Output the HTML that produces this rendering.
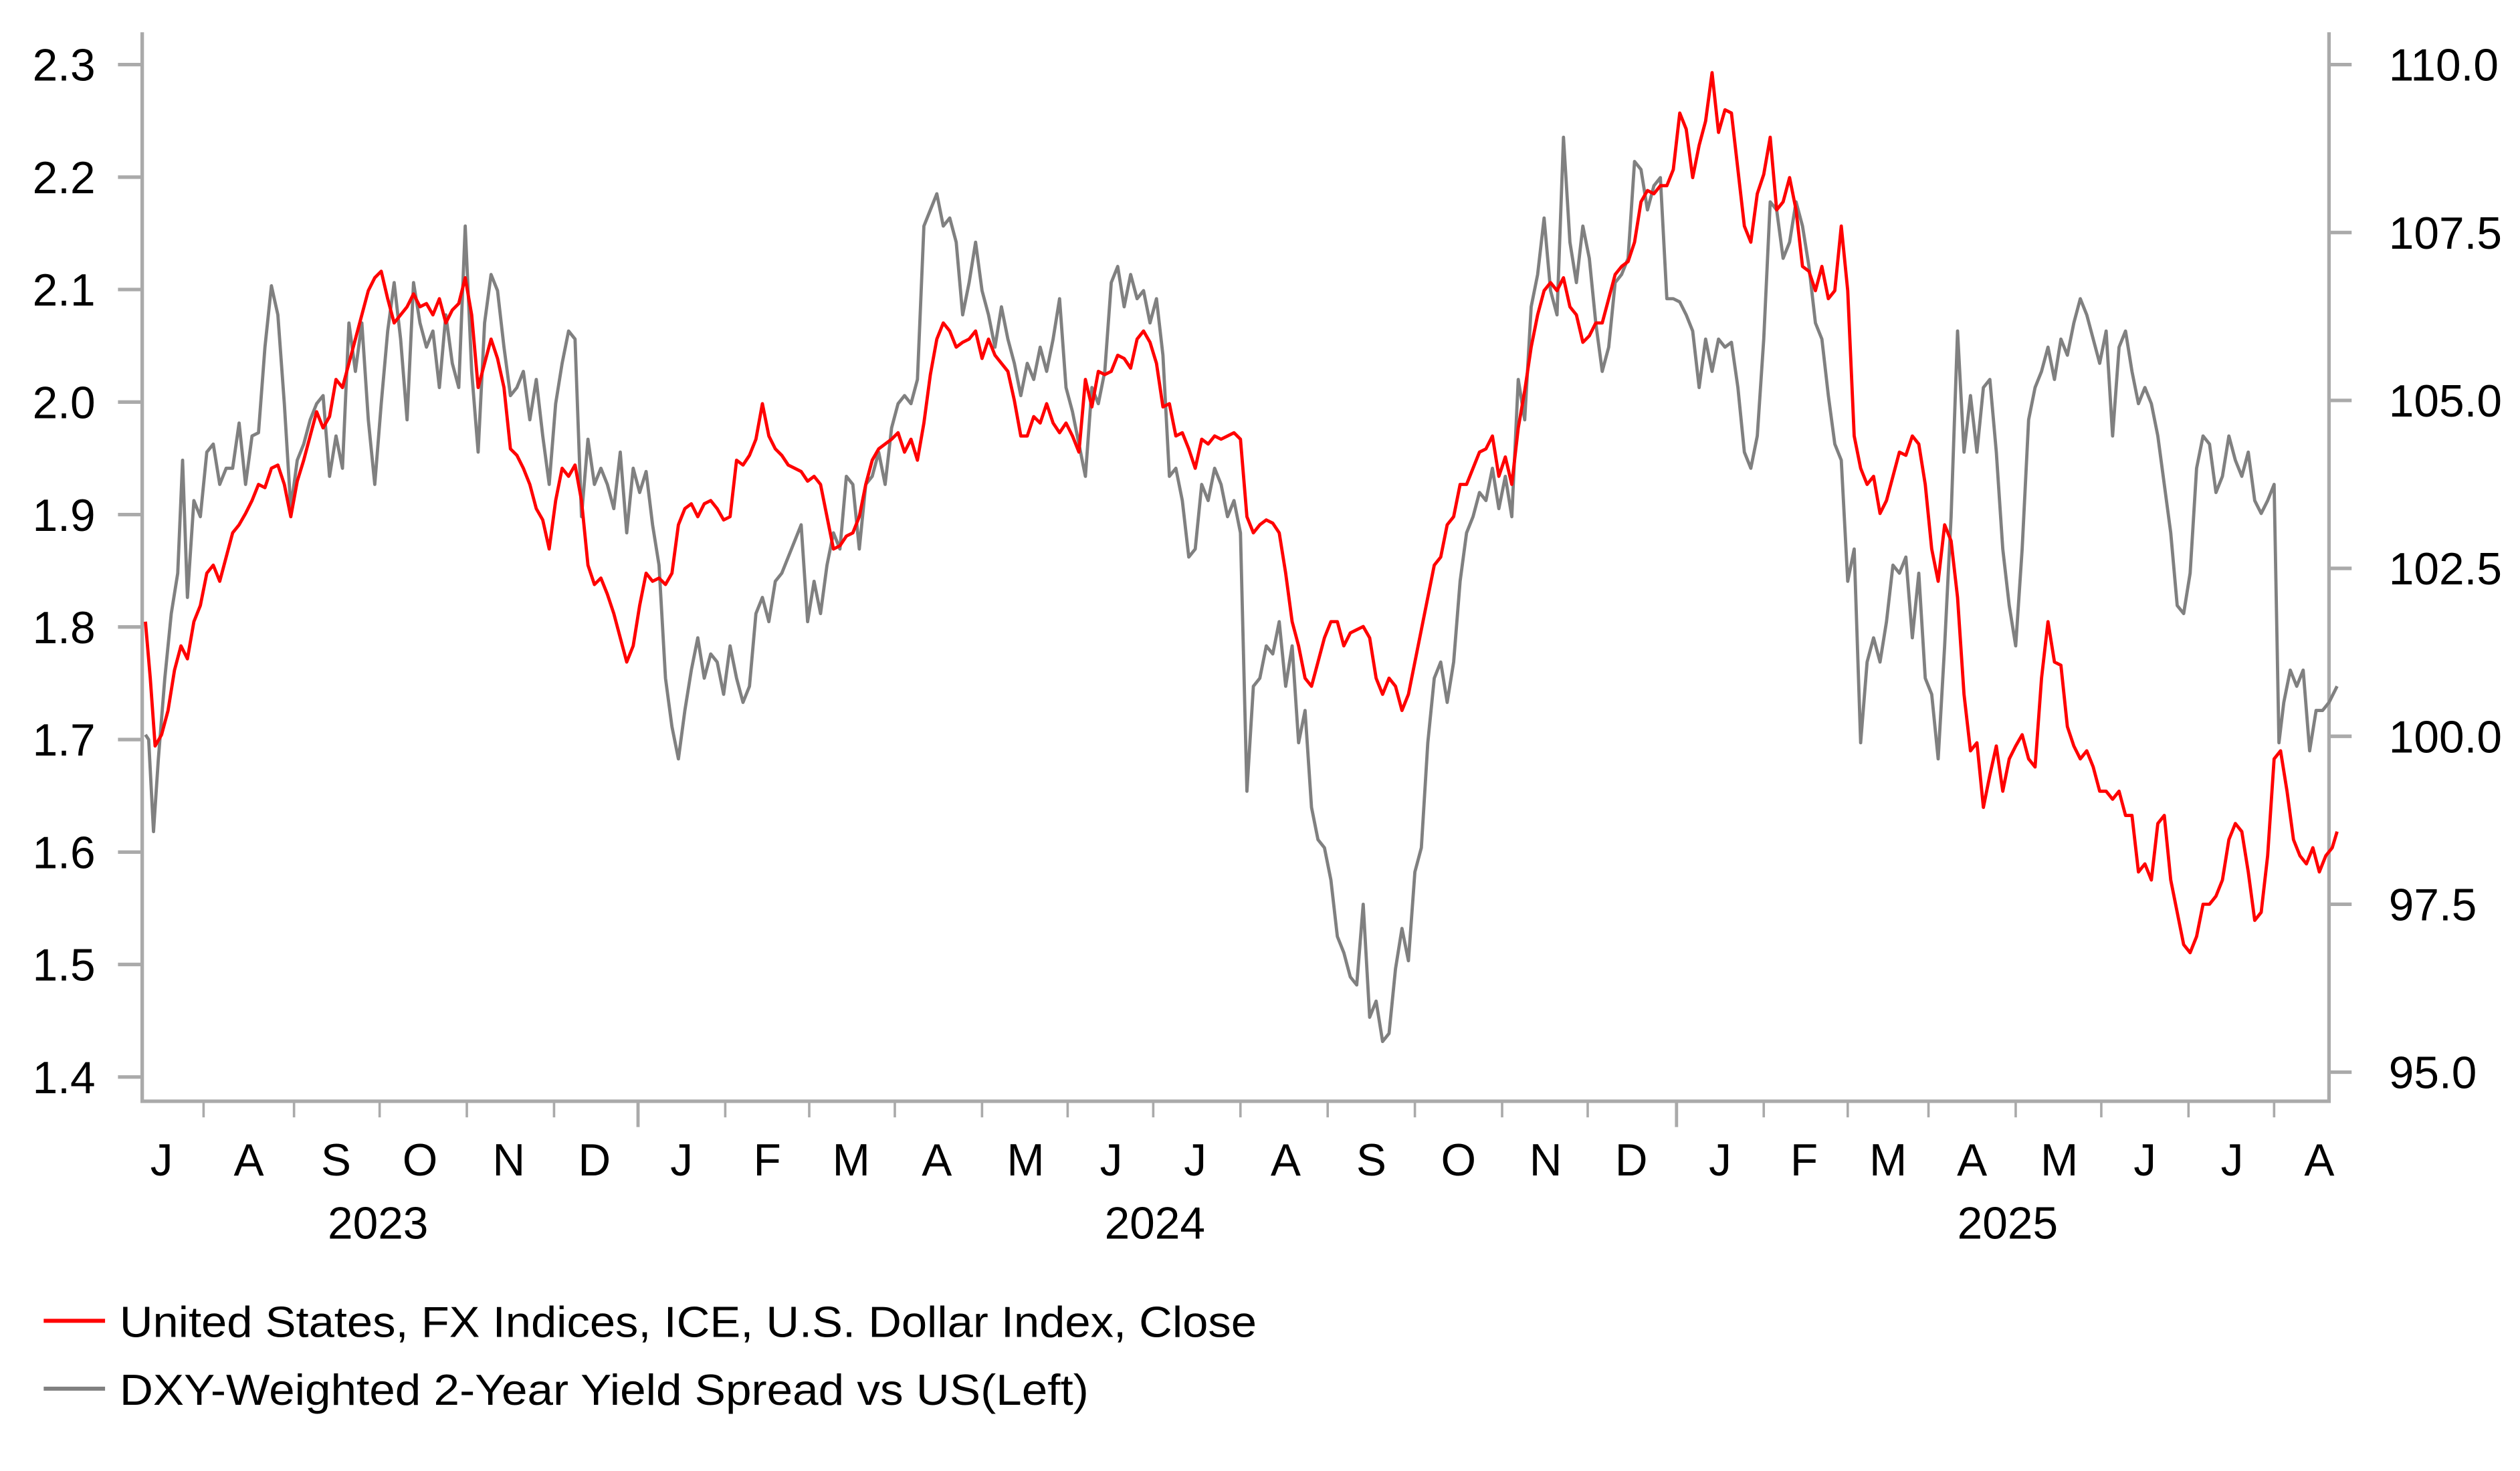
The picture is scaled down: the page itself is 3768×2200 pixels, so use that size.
<!DOCTYPE html>
<html><head><meta charset="utf-8"><style>
html,body{margin:0;padding:0;background:#fff;}
svg{display:block;}
text{font-family:"Liberation Sans",Arial,sans-serif;fill:#000;}
</style></head><body>
<svg width="3768" height="2200" viewBox="0 0 1560.2 911" xmlns="http://www.w3.org/2000/svg">
<g stroke="#aaa" stroke-width="2.2" fill="none">
<polyline points="88,20 88,682 1442,682 1442,20"/>
<path d="M73,40H88 M73,109.7H88 M73,179.3H88 M73,249H88 M73,318.7H88 M73,388.3H88 M73,458H88 M73,527.7H88 M73,597.3H88 M73,667H88"/>
<path d="M1442,40H1456 M1442,144H1456 M1442,248H1456 M1442,352H1456 M1442,456H1456 M1442,560H1456 M1442,664H1456"/>
<path stroke-width="1.5" d="M126,682V692 M182,682V692 M235,682V692 M289,682V692 M343,682V692 M449,682V692 M501,682V692 M554,682V692 M608,682V692 M661,682V692 M714,682V692 M768,682V692 M822,682V692 M876,682V692 M930,682V692 M983,682V692 M1092,682V692 M1144,682V692 M1194,682V692 M1248,682V692 M1301,682V692 M1355,682V692 M1408,682V692"/>
<path stroke-width="2" d="M395,682V698 M1038,682V698"/>
</g>
<g font-size="28" text-anchor="end">
<text x="59" y="50">2.3</text><text x="59" y="119.7">2.2</text><text x="59" y="189.3">2.1</text><text x="59" y="259">2.0</text><text x="59" y="328.7">1.9</text><text x="59" y="398.3">1.8</text><text x="59" y="468">1.7</text><text x="59" y="537.7">1.6</text><text x="59" y="607.3">1.5</text><text x="59" y="677">1.4</text>
</g>
<g font-size="28">
<text x="1479" y="50">110.0</text><text x="1479" y="154">107.5</text><text x="1479" y="258">105.0</text><text x="1479" y="362">102.5</text><text x="1479" y="466">100.0</text><text x="1479" y="570">97.5</text><text x="1479" y="674">95.0</text>
</g>
<g font-size="28" text-anchor="middle">
<text x="100" y="728">J</text><text x="154" y="728">A</text><text x="208" y="728">S</text><text x="260" y="728">O</text><text x="315" y="728">N</text><text x="368" y="728">D</text><text x="422" y="728">J</text><text x="475" y="728">F</text><text x="527" y="728">M</text><text x="580" y="728">A</text><text x="635" y="728">M</text><text x="688" y="728">J</text><text x="740" y="728">J</text><text x="796" y="728">A</text><text x="849" y="728">S</text><text x="903" y="728">O</text><text x="957" y="728">N</text><text x="1010" y="728">D</text><text x="1065" y="728">J</text><text x="1117" y="728">F</text><text x="1169" y="728">M</text><text x="1221" y="728">A</text><text x="1275" y="728">M</text><text x="1328" y="728">J</text><text x="1382" y="728">J</text><text x="1436" y="728">A</text>
<text x="234" y="767">2023</text><text x="715" y="767">2024</text><text x="1243" y="767">2025</text>
</g>
<polyline fill="none" stroke="#808080" stroke-width="2" stroke-linejoin="round" points="90,455 92,458 95,515 98,470 102,420 106,380 110,355 113,285 116,370 120,310 124,320 128,280 132,275 136,300 140,290 144,290 148,262 152,300 156,270 160,268 164,215 168,177 172,195 176,250 180,315 184,285 188,275 192,260 196,250 200,245 204,295 208,270 212,290 216,200 220,230 224,200 228,260 232,300 236,250 240,205 244,175 248,210 252,260 256,175 260,200 264,215 268,205 272,240 276,195 280,225 284,240 288,140 292,230 296,280 300,200 304,170 308,180 312,215 316,245 320,240 324,230 328,260 332,235 336,270 340,300 344,250 348,225 352,205 356,210 360,320 364,272 368,300 372,290 376,300 380,315 384,280 388,330 392,290 396,305 400,292 404,325 408,350 412,420 416,450 420,470 424,440 428,415 432,395 436,420 440,405 444,410 448,430 452,400 456,420 460,435 464,425 468,380 472,370 476,385 480,360 484,355 488,345 492,335 496,325 500,385 504,360 508,380 512,350 516,330 520,340 524,295 528,300 532,340 536,300 540,295 544,280 548,300 552,265 556,250 560,245 564,250 568,235 572,140 576,130 580,120 584,140 588,135 592,150 596,195 600,175 604,150 608,180 612,195 616,215 620,190 624,210 628,225 632,245 636,225 640,235 644,215 648,230 652,210 656,185 660,240 664,255 668,275 672,295 676,240 680,250 684,230 688,175 692,165 696,190 700,170 704,185 708,180 712,200 716,185 720,220 724,295 728,290 732,310 736,345 740,340 744,300 748,310 752,290 756,300 760,320 764,310 768,330 772,490 776,425 780,420 784,400 788,405 792,385 796,425 800,400 804,460 808,440 812,500 816,520 820,525 824,545 828,580 832,590 836,605 840,610 844,560 848,630 852,620 856,645 860,640 864,600 868,575 872,595 876,540 880,525 884,460 888,420 892,410 896,435 900,410 904,360 908,330 912,320 916,305 920,310 924,290 928,315 932,295 936,320 940,235 944,260 948,190 952,170 956,135 960,180 964,195 968,85 972,150 976,175 980,140 984,160 988,200 992,230 996,215 1000,175 1004,170 1008,160 1012,100 1016,105 1020,130 1024,115 1028,110 1032,185 1036,185 1040,187 1044,195 1048,205 1052,240 1056,210 1060,230 1064,210 1068,215 1072,212 1076,240 1080,280 1084,290 1088,270 1092,210 1096,125 1100,130 1104,160 1108,150 1112,125 1116,140 1120,165 1124,200 1128,210 1132,245 1136,275 1140,285 1144,360 1148,340 1152,460 1156,410 1160,395 1164,410 1168,385 1172,350 1176,355 1180,345 1184,395 1188,355 1192,420 1196,430 1200,470 1204,400 1208,320 1212,205 1216,280 1220,245 1224,280 1228,240 1232,235 1236,280 1240,340 1244,375 1248,400 1252,340 1256,260 1260,240 1264,230 1268,215 1272,235 1276,210 1280,220 1284,200 1288,185 1292,195 1296,210 1300,225 1304,205 1308,270 1312,215 1316,205 1320,230 1324,250 1328,240 1332,250 1336,270 1340,300 1344,330 1348,375 1352,380 1356,355 1360,290 1364,270 1368,275 1372,305 1376,295 1380,270 1384,285 1388,295 1392,280 1396,310 1400,318 1404,310 1408,300 1411,460 1414,435 1418,415 1422,425 1426,415 1430,465 1434,440 1438,440 1442,435 1447,425"/>
<polyline fill="none" stroke="#ff0000" stroke-width="2" stroke-linejoin="round" points="90,385 93,420 96,462 100,455 104,440 108,415 112,400 116,408 120,385 124,375 128,355 132,350 136,360 140,345 144,330 148,325 152,318 156,310 160,300 164,302 168,290 172,288 176,300 180,320 184,298 188,285 192,270 196,255 200,265 204,258 208,235 212,240 216,225 220,210 224,195 228,180 232,172 236,168 240,185 244,200 248,195 252,190 256,182 260,190 264,188 268,195 272,185 276,200 280,192 284,188 288,172 292,195 296,240 300,225 304,210 308,222 312,240 316,278 320,282 324,290 328,300 332,315 336,322 340,340 344,310 348,290 352,295 356,288 360,310 364,350 368,362 372,358 376,368 380,380 384,395 388,410 392,400 396,375 400,355 404,360 408,358 412,362 416,355 420,325 424,315 428,312 432,320 436,312 440,310 444,315 448,322 452,320 456,285 460,288 464,282 468,272 472,250 476,270 480,278 484,282 488,288 492,290 496,292 500,298 504,295 508,300 512,320 516,340 520,338 524,332 528,330 532,320 536,300 540,285 544,278 548,275 552,272 556,268 560,280 564,272 568,285 572,262 576,232 580,210 584,200 588,205 592,215 596,212 600,210 604,205 608,222 612,210 616,220 620,225 624,230 628,248 632,270 636,270 640,258 644,262 648,250 652,262 656,268 660,262 664,270 668,280 672,235 676,252 680,230 684,232 688,230 692,220 696,222 700,228 704,210 708,205 712,212 716,225 720,252 724,250 728,270 732,268 736,278 740,290 744,272 748,275 752,270 756,272 760,270 764,268 768,272 772,320 776,330 780,325 784,322 788,324 792,330 796,355 800,385 804,400 808,420 812,425 816,410 820,395 824,385 828,385 832,400 836,392 840,390 844,388 848,395 852,420 856,430 860,420 864,425 868,440 872,430 876,410 880,390 884,370 888,350 892,345 896,325 900,320 904,300 908,300 912,290 916,280 920,278 924,270 928,295 932,283 936,300 940,265 944,242 948,215 952,195 956,180 960,175 964,180 968,172 972,190 976,195 980,212 984,208 988,200 992,200 996,185 1000,170 1004,165 1008,162 1012,150 1016,125 1020,118 1024,120 1028,115 1032,115 1036,105 1040,70 1044,80 1048,110 1052,90 1056,75 1060,45 1064,82 1068,68 1072,70 1076,105 1080,140 1084,150 1088,120 1092,108 1096,85 1100,130 1104,125 1108,110 1112,130 1116,165 1120,168 1124,180 1128,165 1132,185 1136,180 1140,140 1144,180 1148,270 1152,290 1156,300 1160,295 1164,318 1168,310 1172,295 1176,280 1180,282 1184,270 1188,275 1192,300 1196,340 1200,360 1204,325 1208,335 1212,370 1216,430 1220,465 1224,460 1228,500 1232,480 1236,462 1240,490 1244,470 1248,462 1252,455 1256,470 1260,475 1264,420 1268,385 1272,410 1276,412 1280,450 1284,462 1288,470 1292,465 1296,475 1300,490 1304,490 1308,495 1312,490 1316,505 1320,505 1324,540 1328,535 1332,545 1336,510 1340,505 1344,545 1348,565 1352,585 1356,590 1360,580 1364,560 1368,560 1372,555 1376,545 1380,520 1384,510 1388,515 1392,540 1396,570 1400,565 1404,530 1408,470 1412,465 1416,490 1420,520 1424,530 1428,535 1432,525 1436,540 1440,530 1444,525 1447,515"/>
<line x1="27" y1="818" x2="65" y2="818" stroke="#ff0000" stroke-width="2.5"/>
<line x1="27" y1="860" x2="65" y2="860" stroke="#808080" stroke-width="2.5"/>
<g font-size="27">
<text x="74" y="828" textLength="704" lengthAdjust="spacingAndGlyphs">United States, FX Indices, ICE, U.S. Dollar Index, Close</text>
<text x="74" y="870" textLength="600" lengthAdjust="spacingAndGlyphs">DXY-Weighted 2-Year Yield Spread vs US(Left)</text>
</g>
</svg>
</body></html>
